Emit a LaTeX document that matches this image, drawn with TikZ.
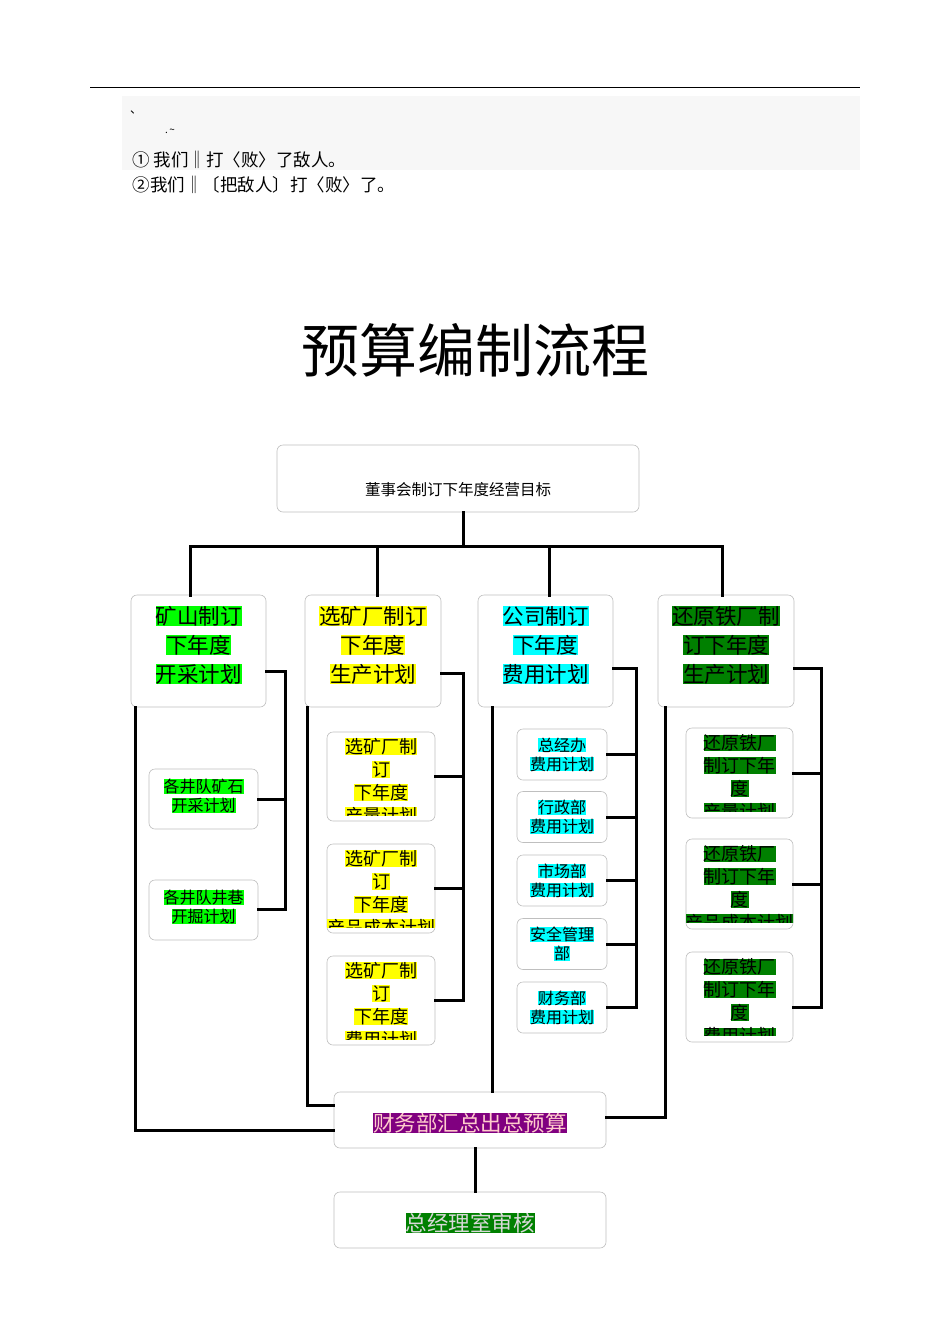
\documentclass[tikz,border=0pt]{standalone}
\usepackage{fontspec}
\setmainfont{Noto Sans CJK SC}
\usetikzlibrary{calc}
\definecolor{bg}{HTML}{F7F7F7}
\definecolor{hgreen}{HTML}{00FF00}
\definecolor{hyel}{HTML}{FFFF00}
\definecolor{hcyan}{HTML}{00FFFF}
\definecolor{hdark}{HTML}{008000}
\definecolor{hpurp}{HTML}{800080}
\newcommand{\hlx}[2]{{\setlength\fboxsep{0pt}\colorbox{#1}{#2}}}
\tikzset{
 box/.style={draw=black!25, line width=0.6pt, rounded corners=6pt, fill=white, inner sep=0pt},
 con/.style={line width=3pt, line cap=rect},
 big/.style={align=center, font=\fontsize{21.5}{29}\selectfont},
 small/.style={align=center, font=\fontsize{16}{19}\selectfont},
 mid/.style={align=center, font=\fontsize{18}{23}\selectfont},
}
\begin{document}
\begin{tikzpicture}[x=1pt,y=-1pt]
\useasboundingbox (0,0) rectangle (950,1344);
\fill[white] (0,0) rectangle (950,1344);
% header
\draw[line width=1pt] (90,87) -- (860,87);
\fill[bg] (122,96) rectangle (860,170);
\node[font=\fontsize{12}{12}\selectfont] (t0) at (136,112) {、};
\node[font=\fontsize{10}{10}\selectfont] (t1) at (170,131) {.\,\textasciitilde};
\node[anchor=west, font=\fontsize{17.5}{17}\selectfont] (t2) at (129,160) {① 我们‖打〈败〉了敌人。};
\node[anchor=west, font=\fontsize{17.5}{17}\selectfont] (t3) at (129,185) {②我们‖〔把敌人〕打〈败〉了。};
\node[font=\fontsize{58}{58}\selectfont] (title) at (475,350) {预算编制流程};
% top box
\node[box, minimum width=362pt, minimum height=67pt] (top) at (458,478.5) {};
\node[font=\fontsize{15.5}{16}\selectfont] at (458,490) {董事会制订下年度经营目标};
% main boxes
\node[box, minimum width=135pt, minimum height=112pt] (A) at (198.5,651) {};
\node[box, minimum width=136pt, minimum height=112pt] (B) at (373,651) {};
\node[box, minimum width=135pt, minimum height=112pt] (C) at (545.5,651) {};
\node[box, minimum width=136pt, minimum height=112pt] (D) at (726,651) {};
\node[big] at (198.5,645) {\hlx{hgreen}{矿山制订}\\\hlx{hgreen}{下年度}\\\hlx{hgreen}{开采计划}};
\node[big] at (373,645) {\hlx{hyel}{选矿厂制订}\\\hlx{hyel}{下年度}\\\hlx{hyel}{生产计划}};
\node[big] at (545.5,645) {\hlx{hcyan}{公司制订}\\\hlx{hcyan}{下年度}\\\hlx{hcyan}{费用计划}};
\node[big] at (726,645) {\hlx{hdark}{还原铁厂制}\\\hlx{hdark}{订下年度}\\\hlx{hdark}{生产计划}};
% top connectors
\coordinate (h) at (463,546);
\draw[con] (top.south -| h) -- (h);
\draw[con] (190,546) -- (722,546);
\draw[con] (190,546) -- (190,595);
\draw[con] (377,546) -- (377,595);
\draw[con] (549,546) -- (549,595);
\draw[con] (722,546) -- (722,595);
% A subs
\node[box, minimum width=109pt, minimum height=60pt] (A1) at (203.5,799) {};
\node[box, minimum width=109pt, minimum height=60pt] (A2) at (203.5,910) {};
\node[small] at (203.5,796) {\hlx{hgreen}{各井队矿石}\\\hlx{hgreen}{开采计划}};
\node[small] at (203.5,907) {\hlx{hgreen}{各井队井巷}\\\hlx{hgreen}{开掘计划}};
\draw[con] (266,671) -| (285,909) -- (258,909);
\draw[con] (A1.east) -- (285,799);
% B subs
\foreach \n/\y/\t in {B1/776.5/产量计划, B2/888.5/产品成本计划, B3/1000.5/费用计划}{
 \node[box, minimum width=108pt, minimum height=89pt] (\n) at (381,\y) {};
 \begin{scope}
 \clip (327,\y-44.5) rectangle (435,\y+39);
 \node[mid, anchor=north] at (381,\y-42) {\hlx{hyel}{选矿厂制}\\\hlx{hyel}{订}\\\hlx{hyel}{下年度}\\\hlx{hyel}{\t}};
 \end{scope}
}
\draw[con] (441,673) -| (463,1000.5) -- (B3.east);
\draw[con] (B1.east) -- (463,776.5);
\draw[con] (B2.east) -- (463,888.5);
% C subs
\foreach \n/\y/\a/\b in {C1/754.5/总经办/费用计划, C2/817/行政部/费用计划, C3/880.5/市场部/费用计划, C4/944/安全管理/部, C5/1007.5/财务部/费用计划}{
 \node[box, minimum width=90pt, minimum height=51pt] (\n) at (562,\y) {};
 \node[small] at (562,\y) {\hlx{hcyan}{\a}\\\hlx{hcyan}{\b}};
}
\draw[con] (613,668) -| (636,1007.5) -- (C5.east);
\foreach \n/\y in {C1/754.5,C2/817,C3/880.5,C4/944}{\draw[con] (\n.east) -- (636,\y);}
% D subs
\foreach \n/\y/\t in {D1/773/产量计划, D2/884/产品成本计划, D3/997/费用计划}{
 \node[box, minimum width=107pt, minimum height=90pt] (\n) at (739.5,\y) {};
 \begin{scope}
 \clip (686,\y-45) rectangle (793,\y+38);
 \node[mid, anchor=north] at (739.5,\y-42) {\hlx{hdark}{还原铁厂}\\\hlx{hdark}{制订下年}\\\hlx{hdark}{度}\\\hlx{hdark}{\t}};
 \end{scope}
}
\draw[con] (794,668) -| (821,1007) -- (D3.east |- 0,1007);
\draw[con] (D1.east) -- (821,773);
\draw[con] (D2.east) -- (821,884);
% summary
\node[box, minimum width=272pt, minimum height=56pt] (S) at (470,1120) {};
\node[font=\fontsize{21.5}{20}\selectfont] at (470,1123) {\hlx{hpurp}{\color{pink!80!white}财务部汇总出总预算}};
\node[box, minimum width=272pt, minimum height=56pt] (F) at (470,1220) {};
\node[font=\fontsize{21.5}{20}\selectfont] at (470,1223) {\hlx{hdark}{\color{black!15}总经理室审核}};
\draw[con] (135,707) -- (135,1130) -- (S.west |- 0,1130);
\draw[con] (307,707) -- (307,1105) -- (S.west |- 0,1105);
\draw[con] (492,707) -- (S.north -| 492,0);
\draw[con] (665,707) -- (665,1117) -- (S.east |- 0,1117);
\draw[con] (S.south -| 475,0) -- (F.north -| 475,0);
\end{tikzpicture}
\end{document}
